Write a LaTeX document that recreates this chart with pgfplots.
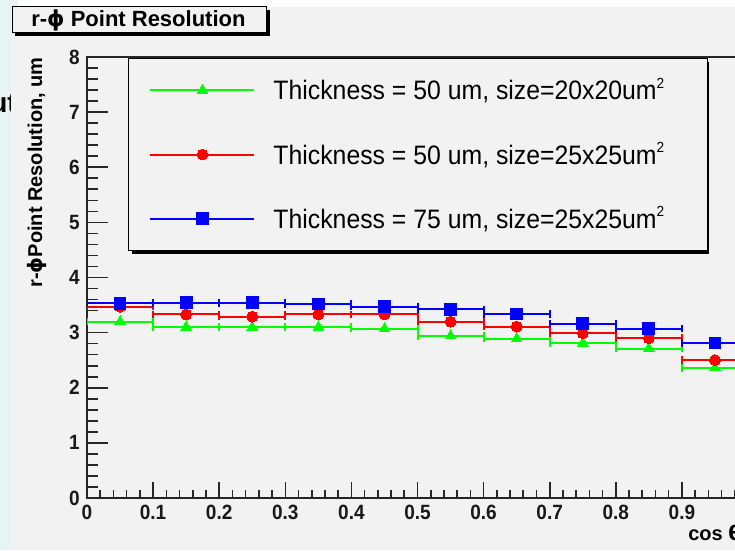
\documentclass[border=0pt]{standalone}
\usepackage{pgfplots}
\usepackage{pgfplotstable}
\pgfplotsset{compat=1.18}
\usepackage{fontspec}
\setmainfont{Liberation Sans}
\newfontfamily\greekfont{DejaVu Sans}
\newfontfamily\tickfont[FakeStretch=0.92]{Liberation Sans}
\newfontfamily\legfont[FakeStretch=0.93]{Liberation Sans}

\definecolor{canvas}{HTML}{F2F2F2}
\definecolor{strip}{HTML}{E6F4F4}
\definecolor{kgreen}{RGB}{0,255,0}
\definecolor{kred}{RGB}{255,0,0}
\definecolor{kblue}{RGB}{0,0,255}

% superscript used in the legend (um^2), followed by right padding of the box
\newcommand\sqr{\raisebox{8.6pt}{\fontsize{11}{11}\selectfont 2}\rule{16.5pt}{0pt}}

% r-phi point resolution per cos(theta) bin (bin width 0.1)
\pgfplotstableread{
x    y
0.05 3.20
0.15 3.10
0.25 3.10
0.35 3.10
0.45 3.07
0.55 2.94
0.65 2.89
0.75 2.81
0.85 2.71
0.95 2.36
}\thinsmall
\pgfplotstableread{
x    y
0.05 3.47
0.15 3.33
0.25 3.29
0.35 3.33
0.45 3.33
0.55 3.20
0.65 3.11
0.75 2.99
0.85 2.90
0.95 2.50
}\thinlarge
\pgfplotstableread{
x    y
0.05 3.53
0.15 3.54
0.25 3.54
0.35 3.52
0.45 3.47
0.55 3.42
0.65 3.34
0.75 3.16
0.85 3.07
0.95 2.81
}\thicklarge

\begin{document}
\begin{tikzpicture}[x=0.75pt,y=0.75pt]
% canvas and surroundings
\fill[strip] (0,0) rectangle (735,550);
\node[anchor=base east, inner sep=0pt, font=\bfseries\fontsize{21}{21}\selectfont] at (17,437) {Out};
\fill[white] (18,543) rectangle (735,550);
\fill[canvas] (11,0) rectangle (735,543);

% title box with shadow
\fill[black] (15,514) rectangle (269.5,540);
\filldraw[fill=canvas, draw=black, line width=0.75pt] (12,517) rectangle (266.5,543);
\node[anchor=west, inner sep=0pt, font=\bfseries\fontsize{16.5}{16.5}\selectfont] at (31,530)
  {r-{\greekfont ϕ} Point Resolution};

% shadow behind the legend box
\fill[black] (132,296) rectangle (709,488);

\begin{axis}[
  at={(65.25pt,39pt)}, anchor=south west,
  scale only axis, width=495.75pt, height=330.75pt,
  xmin=0, xmax=1, ymin=0, ymax=8,
  axis line style={line width=1.5pt, black!85},
  xtick={0,0.1,0.2,0.3,0.4,0.5,0.6,0.7,0.8,0.9,1},
  xticklabels={0,0.1,0.2,0.3,0.4,0.5,0.6,0.7,0.8,0.9,1},
  ytick={0,1,2,3,4,5,6,7,8},
  minor x tick num=4, minor y tick num=4,
  tick align=inside, tick pos=left,
  xtick style={line width=1.2pt, black!85, /pgfplots/major tick length=12pt, /pgfplots/minor tick length=6pt},
  ytick style={line width=1.2pt, black!85, /pgfplots/major tick length=15.75pt, /pgfplots/minor tick length=8.25pt},
  tick label style={font=\tickfont\bfseries\fontsize{15.5}{15.5}\selectfont, inner sep=0pt, text=black!90},
  /pgf/number format/assume math mode=true,
  xticklabel shift=5.25pt, yticklabel shift=5.25pt,
  legend cell align=left,
  legend style={
    at={(0.062,0.9977)}, anchor=north west,
    draw=black, line width=0.75pt, fill=canvas,
    inner xsep=15.75pt, inner ysep=14pt, row sep=28.6pt, column sep=13.5pt,
    nodes={inner sep=0pt, text height=17pt, text depth=2.6pt,
           font=\legfont\fontsize{20}{20}\selectfont},
  },
  legend image code/.code={
    \draw[line width=1.5pt] (0pt,0pt) -- (78pt,0pt);
    \draw plot coordinates {(39pt,0pt)};
  },
  error bars/error mark=|,
  error bars/error bar style={line width=1.5pt},
  error bars/error mark options={line width=1.5pt, mark size=2.8pt},
]
\addplot[kgreen, only marks, line width=1.5pt, mark=triangle*, mark size=4.6pt,
  mark options={fill=kgreen, draw=kgreen, line width=0pt},
  error bars/.cd, x dir=both, x fixed=0.05]
  table[x=x, y=y] {\thinsmall};
\addlegendentry{Thickness = 50 um, size=20x20um\sqr}
\addplot[kred, only marks, line width=1.5pt, mark=*, mark size=4.1pt,
  mark options={fill=kred, draw=kred, line width=0pt},
  error bars/.cd, x dir=both, x fixed=0.05]
  table[x=x, y=y] {\thinlarge};
\addlegendentry{Thickness = 50 um, size=25x25um\sqr}
\addplot[kblue, only marks, line width=1.5pt, mark=square*, mark size=4.4pt,
  mark options={fill=kblue, draw=kblue, line width=0pt},
  error bars/.cd, x dir=both, x fixed=0.05]
  table[x=x, y=y] {\thicklarge};
\addlegendentry{Thickness = 75 um, size=25x25um\sqr}
\end{axis}

% axis titles
\node[rotate=90, anchor=east, inner sep=0pt, font=\bfseries\fontsize{15}{15}\selectfont] at (36.5,493)
  {r-{\greekfont ϕ}Point Resolution, um};
\node[anchor=west, inner sep=0pt, font=\bfseries\fontsize{15}{15}\selectfont] at (688,17)
  {cos {\greekfont θ}};

\pgfresetboundingbox
\path[use as bounding box] (0,0) rectangle (735,550);
\end{tikzpicture}
\end{document}
